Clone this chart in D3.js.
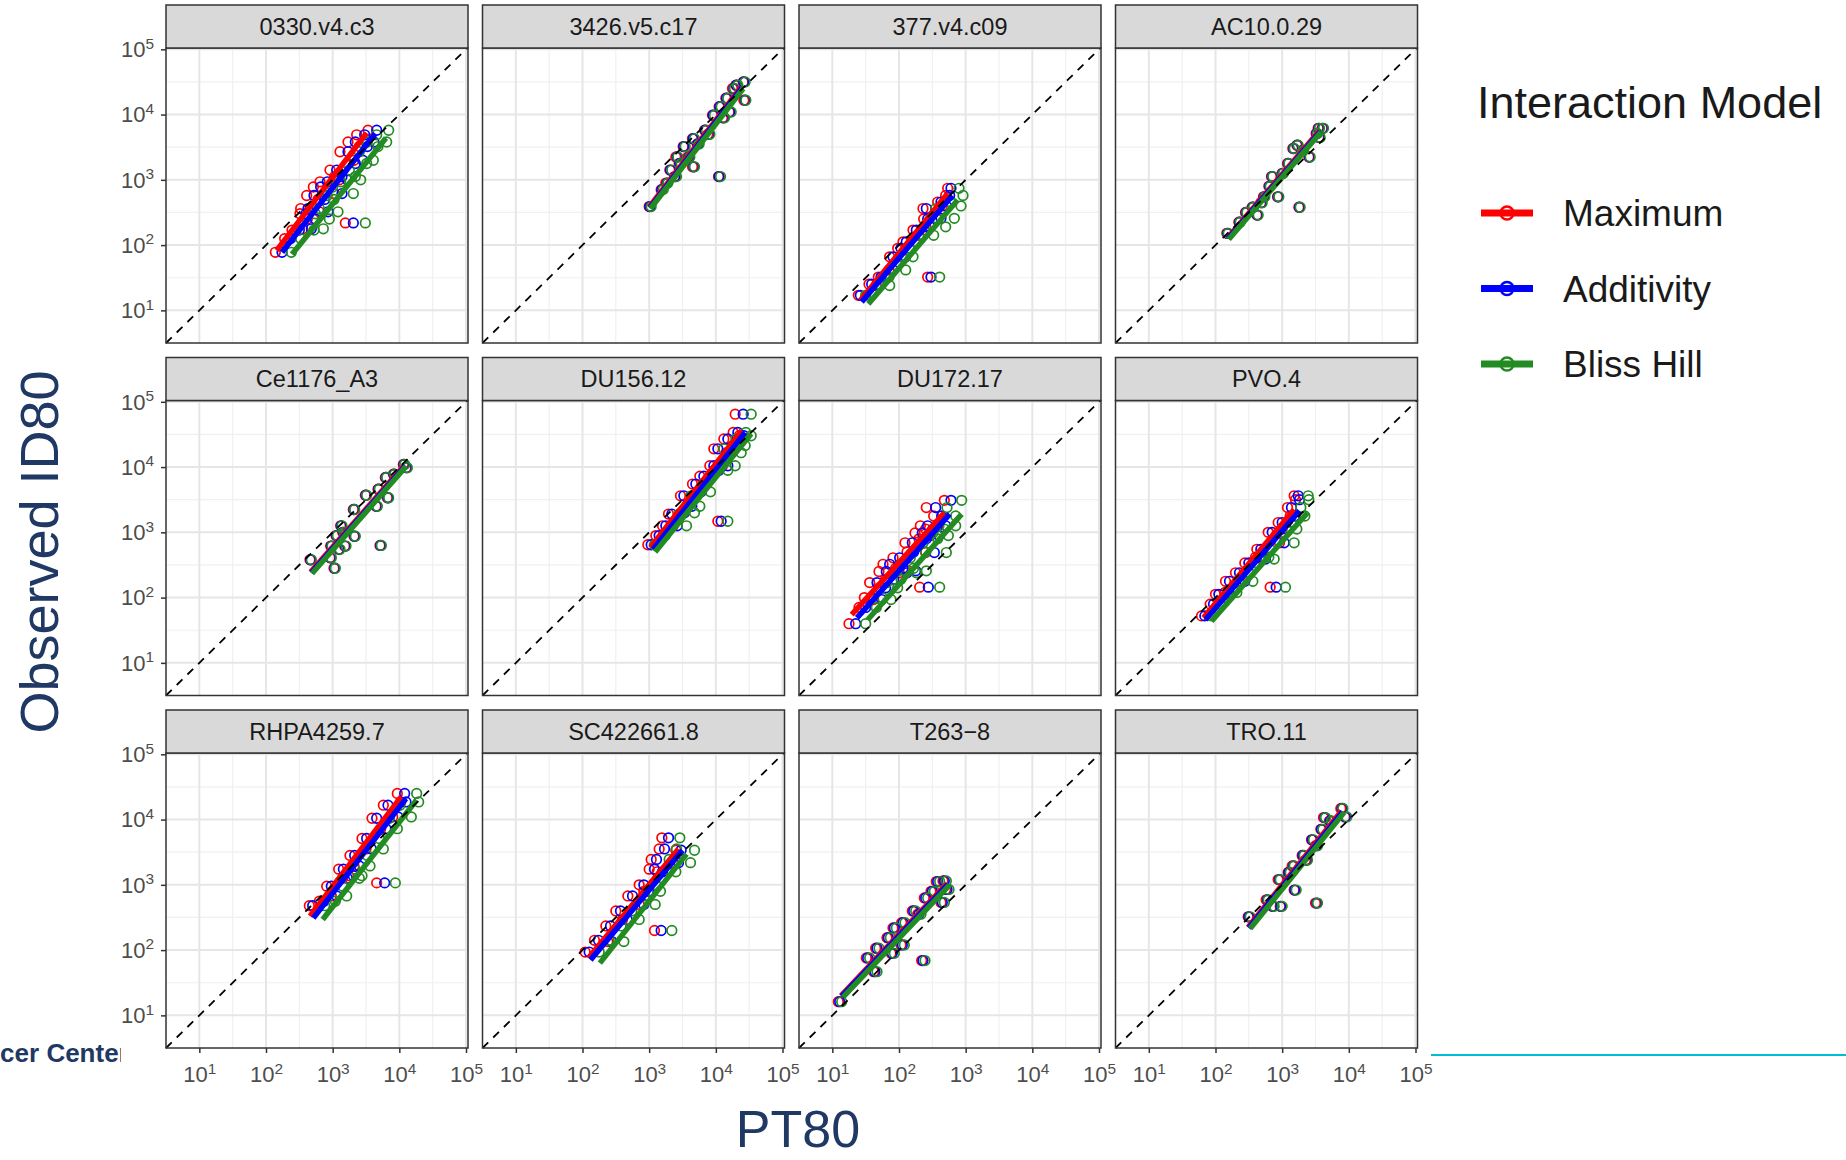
<!DOCTYPE html>
<html>
<head>
<meta charset="utf-8">
<script src="https://cdn.jsdelivr.net/npm/d3@7"></script>
<style>
  body { margin: 0; background: #fff; overflow: hidden; }
  svg { display: block; font-family: "Liberation Sans", Arial, sans-serif; }
</style>
</head>
<body>
<div id="chart"></div>
<script>
// panel names (facets) and models
const panels = ["0330.v4.c3", "3426.v5.c17", "377.v4.c09", "AC10.0.29",
                "Ce1176_A3", "DU156.12", "DU172.17", "PVO.4",
                "RHPA4259.7", "SC422661.8", "T263\u22128", "TRO.11"];
const models = ["Maximum", "Additivity", "Bliss Hill"];
const modelColors = ["#ff0000", "#0000ff", "#228b22"];

// axis breaks, log10 units (labels 10^k)
const majorBreaks = [1, 2, 3, 4, 5];
const minorBreaks = [1.5, 2.5, 3.5, 4.5];

// observed ID80, log10, one array per panel
const observedID80 = [
  [1.89,2.10,2.23,2.25,2.48,2.56,2.51,2.76,2.70,2.89,2.97,2.79,3.15,3.05,3.25,3.43,3.30,3.58,3.51,3.69,3.58,3.76,2.34,2.40,3.00],
  [2.59,2.85,2.95,3.15,3.05,3.35,3.25,3.51,3.35,3.63,3.20,3.55,3.76,3.70,3.99,4.12,3.95,4.25,4.04,4.40,4.45,4.50,4.22,3.05],
  [1.23,1.40,1.51,1.38,1.82,1.62,1.95,1.82,2.05,2.23,2.15,2.40,2.56,2.41,2.66,2.60,2.87,2.76,1.51,2.28],
  [2.18,2.35,2.46,2.58,2.50,2.74,2.65,2.74,2.90,3.05,3.10,3.25,3.48,3.53,3.35,3.45,3.71,3.79,3.79,3.65,2.58],
  [2.58,2.45,2.61,2.74,2.79,3.00,2.94,3.35,3.10,3.57,2.80,3.66,3.53,3.40,3.84,3.89,4.04,3.99,2.79,2.95],
  [2.81,2.95,3.10,3.28,3.10,3.56,3.40,3.74,3.62,3.86,4.02,3.95,4.28,4.02,4.22,4.43,4.33,4.53,4.48,4.81,3.17,3.30],
  [1.60,1.85,2.00,1.97,2.23,2.15,2.40,2.51,2.28,2.61,2.45,2.84,2.38,2.70,2.99,2.41,3.10,2.90,3.05,3.38,2.95,3.25,3.49,3.10,2.16,2.69],
  [1.72,1.90,2.05,2.08,2.25,2.25,2.38,2.53,2.59,2.74,2.62,3.00,2.84,3.15,3.05,3.38,3.25,3.56,3.50,2.16],
  [2.68,2.75,2.98,2.83,3.24,3.10,3.45,3.14,3.29,3.71,3.55,4.02,3.86,4.22,4.04,4.40,4.27,3.03],
  [1.97,2.15,2.13,2.37,2.60,2.47,2.83,2.70,3.00,2.90,3.24,3.39,3.20,3.55,3.34,3.72,3.53,2.30],
  [1.21,1.67,1.88,2.03,1.95,2.19,2.08,2.34,2.42,2.60,2.55,2.80,2.73,3.05,3.06,2.93,1.84,2.90],
  [2.51,2.67,2.77,2.67,2.92,3.08,3.19,3.29,3.45,3.38,3.69,3.60,3.85,4.03,3.98,4.17,4.04,2.72]
];

// predicted PT80, log10, per model
const pt80Maximum = [
  [2.14,2.28,2.39,2.55,2.51,2.52,2.80,2.61,2.78,2.71,2.81,3.02,2.96,3.03,3.22,3.11,3.32,3.23,3.40,3.36,3.50,3.53,3.19,2.62,3.10],
  [3.00,3.18,3.25,3.31,3.38,3.40,3.45,3.51,3.58,3.65,3.65,3.72,3.83,3.88,3.95,4.05,4.10,4.15,4.20,4.25,4.30,4.41,4.42,4.04],
  [1.39,1.55,1.69,1.66,1.86,1.85,1.98,2.04,2.06,2.21,2.30,2.37,2.36,2.56,2.58,2.65,2.73,2.70,2.43,2.40],
  [2.17,2.35,2.62,2.55,2.45,2.72,2.68,2.93,2.80,2.84,3.00,3.08,3.16,3.22,3.40,3.30,3.51,3.54,3.60,3.55,3.25],
  [2.66,3.02,2.96,3.09,3.18,3.15,3.32,3.31,3.12,3.49,3.71,3.68,3.82,3.65,3.79,3.91,4.06,4.10,2.97,3.05],
  [2.98,3.10,3.20,3.29,3.36,3.47,3.58,3.65,3.72,3.76,3.91,3.98,3.97,4.10,4.16,4.12,4.25,4.26,4.35,4.29,4.03,3.48],
  [1.25,1.40,1.48,1.62,1.56,1.70,1.70,1.76,1.80,1.91,1.95,2.09,2.00,2.12,2.24,2.14,2.32,2.30,2.40,2.41,2.47,2.52,2.68,2.58,2.31,2.40],
  [1.79,1.92,2.00,2.14,2.15,2.38,2.30,2.44,2.69,2.62,2.60,2.79,2.96,2.94,3.00,3.08,3.12,3.18,3.20,2.82],
  [2.65,2.80,2.91,2.98,3.09,3.15,3.26,3.24,3.32,3.44,3.50,3.59,3.72,3.76,3.90,3.97,4.02,3.66],
  [2.04,2.18,2.38,2.35,2.50,2.60,2.68,2.85,2.85,2.92,3.00,3.03,3.12,3.15,3.36,3.19,3.40,3.08],
  [1.09,1.62,1.51,1.65,1.88,1.82,2.03,1.91,2.04,2.20,2.28,2.38,2.63,2.56,2.66,2.70,2.34,2.48],
  [2.49,2.85,2.76,2.97,3.18,2.94,3.09,3.15,3.30,3.35,3.44,3.50,3.58,3.62,3.71,3.88,3.94,3.50]
];
const pt80Additivity = [
  [2.24,2.37,2.50,2.68,2.60,2.63,2.93,2.72,2.88,2.82,2.92,3.14,3.06,3.14,3.34,3.23,3.45,3.34,3.52,3.48,3.62,3.66,3.31,2.74,3.22],
  [3.01,3.19,3.27,3.32,3.39,3.42,3.46,3.52,3.60,3.66,3.67,3.73,3.84,3.90,3.96,4.06,4.12,4.16,4.21,4.27,4.31,4.42,4.44,4.05],
  [1.42,1.59,1.73,1.71,1.91,1.91,2.03,2.10,2.11,2.26,2.36,2.43,2.41,2.63,2.63,2.71,2.78,2.76,2.48,2.47],
  [2.18,2.36,2.63,2.56,2.46,2.73,2.69,2.94,2.81,2.85,3.01,3.09,3.17,3.23,3.41,3.31,3.52,3.55,3.61,3.56,3.26],
  [2.67,3.03,2.97,3.10,3.19,3.16,3.33,3.32,3.13,3.50,3.72,3.69,3.83,3.66,3.80,3.92,4.07,4.11,2.98,3.06],
  [3.03,3.15,3.25,3.34,3.42,3.52,3.64,3.70,3.78,3.82,3.97,4.05,4.03,4.18,4.24,4.18,4.32,4.33,4.42,4.41,4.08,3.53],
  [1.35,1.50,1.59,1.74,1.67,1.80,1.81,1.86,1.92,2.01,2.06,2.20,2.12,2.22,2.35,2.25,2.43,2.41,2.51,2.55,2.60,2.64,2.78,2.70,2.44,2.53],
  [1.84,1.97,2.05,2.20,2.21,2.44,2.36,2.50,2.75,2.68,2.67,2.85,3.03,3.00,3.07,3.14,3.19,3.24,3.26,2.91],
  [2.70,2.87,2.98,3.06,3.16,3.22,3.33,3.31,3.40,3.51,3.58,3.66,3.80,3.83,3.98,4.08,4.10,3.78],
  [2.10,2.24,2.44,2.42,2.57,2.67,2.75,2.92,2.92,2.99,3.08,3.11,3.20,3.23,3.44,3.29,3.48,3.18],
  [1.11,1.64,1.53,1.67,1.90,1.84,2.05,1.93,2.06,2.22,2.30,2.40,2.65,2.58,2.68,2.72,2.36,2.50],
  [2.50,2.86,2.78,2.98,3.19,2.96,3.10,3.17,3.31,3.37,3.45,3.52,3.59,3.64,3.72,3.90,3.95,3.52]
];
const pt80Bliss = [
  [2.38,2.52,2.72,2.86,2.74,2.80,3.08,2.92,3.02,3.00,3.12,3.31,3.25,3.34,3.51,3.40,3.61,3.52,3.68,3.66,3.81,3.84,3.49,2.95,3.42],
  [3.03,3.21,3.28,3.34,3.41,3.43,3.48,3.54,3.61,3.68,3.68,3.75,3.86,3.91,3.98,4.08,4.13,4.18,4.23,4.28,4.33,4.44,4.45,4.07],
  [1.50,1.70,1.85,1.86,2.05,2.10,2.16,2.21,2.25,2.38,2.52,2.58,2.55,2.83,2.78,2.93,2.90,2.96,2.61,2.70],
  [2.19,2.37,2.64,2.57,2.47,2.74,2.70,2.95,2.82,2.86,3.02,3.10,3.18,3.24,3.42,3.32,3.53,3.56,3.62,3.57,3.27],
  [2.68,3.04,2.98,3.11,3.20,3.17,3.34,3.33,3.14,3.51,3.73,3.70,3.84,3.67,3.81,3.93,4.08,4.12,2.99,3.07],
  [3.08,3.24,3.35,3.45,3.56,3.63,3.76,3.82,3.92,3.95,4.08,4.18,4.12,4.29,4.38,4.30,4.44,4.45,4.53,4.53,4.18,3.68],
  [1.50,1.66,1.75,1.88,1.82,1.98,1.97,2.03,2.03,2.17,2.22,2.36,2.26,2.40,2.51,2.41,2.60,2.58,2.68,2.72,2.74,2.85,2.94,2.85,2.61,2.71],
  [1.94,2.07,2.17,2.32,2.35,2.56,2.50,2.63,2.88,2.82,2.80,2.99,3.18,3.14,3.22,3.28,3.34,3.39,3.40,3.05],
  [2.88,3.04,3.15,3.21,3.33,3.40,3.52,3.44,3.56,3.70,3.76,3.85,3.97,4.01,4.18,4.26,4.29,3.94],
  [2.25,2.40,2.62,2.58,2.74,2.85,2.93,3.09,3.10,3.17,3.26,3.30,3.40,3.41,3.62,3.46,3.68,3.34],
  [1.14,1.67,1.56,1.70,1.93,1.87,2.08,1.96,2.09,2.25,2.33,2.43,2.68,2.61,2.71,2.75,2.39,2.53],
  [2.52,2.88,2.79,3.00,3.21,2.97,3.12,3.18,3.33,3.38,3.47,3.53,3.61,3.65,3.74,3.91,3.97,3.53]
];

// fitted lines per panel: [pt80 start, id80 start, pt80 end, id80 end], log10
const fitMaximum = [
  [2.16,1.92,3.51,3.72],[3.00,2.58,4.38,4.42],[1.42,1.15,2.73,2.79],[2.18,2.11,3.56,3.75],
  [2.67,2.39,4.08,4.03],[3.02,2.77,4.39,4.56],[1.29,1.74,2.68,3.30],[1.82,1.69,3.18,3.35],
  [2.66,2.52,4.03,4.35],[2.09,1.88,3.44,3.55],[1.13,1.30,2.72,3.02],[2.49,2.35,3.89,4.13]
];
const fitAdditivity = [
  [2.24,1.89,3.64,3.71],[3.01,2.57,4.39,4.41],[1.44,1.13,2.80,2.76],[2.19,2.10,3.57,3.74],
  [2.68,2.38,4.09,4.02],[3.06,2.74,4.44,4.53],[1.37,1.69,2.76,3.28],[1.85,1.66,3.26,3.33],
  [2.71,2.49,4.10,4.32],[2.12,1.85,3.50,3.53],[1.14,1.29,2.74,3.01],[2.50,2.34,3.91,4.12]
];
const fitBliss = [
  [2.39,1.86,3.80,3.64],[3.02,2.56,4.41,4.40],[1.54,1.10,2.88,2.69],[2.20,2.09,3.58,3.73],
  [2.69,2.37,4.10,4.01],[3.09,2.70,4.53,4.51],[1.53,1.66,2.94,3.28],[1.94,1.64,3.38,3.30],
  [2.85,2.47,4.26,4.30],[2.26,1.80,3.56,3.47],[1.16,1.28,2.76,3.00],[2.52,2.33,3.93,4.11]
];

const W = 1846, H = 1160;
const panelLeft0 = 166, pitchX = 316.5, panelW = 302;
const stripTop0 = 5, pitchY = 352.5, stripH = 43, plotH = 295;

const svg = d3.select("#chart").append("svg")
    .attr("width", W)
    .attr("height", H);

svg.append("rect").attr("width", W).attr("height", H).attr("fill", "#fff");

// slide leftovers behind the plot
svg.append("defs").append("clipPath").attr("id", "logoClip")
  .append("rect").attr("x", 0).attr("y", 1020).attr("width", 121).attr("height", 60);
svg.append("text")
    .attr("clip-path", "url(#logoClip)")
    .attr("x", -49).attr("y", 1062)
    .attr("font-size", 26).attr("font-weight", "bold")
    .attr("fill", "#1f3864")
    .text("Cancer Center");
svg.append("line")
    .attr("x1", 1431).attr("x2", W).attr("y1", 1055).attr("y2", 1055)
    .attr("stroke", "#00bcd4").attr("stroke-width", 2);

// scales (log10 values)
const x = d3.scaleLinear().domain([0.5, 5.03]).range([0, panelW]);
const y = d3.scaleLinear().domain([0.5, 5.02]).range([plotH, 0]);

const series = [
  { name: models[0], color: modelColors[0], pt: pt80Maximum, fit: fitMaximum },
  { name: models[1], color: modelColors[1], pt: pt80Additivity, fit: fitAdditivity },
  { name: models[2], color: modelColors[2], pt: pt80Bliss, fit: fitBliss }
];

function powerLabels(sel) {
  sel.each(function(d) {
    const t = d3.select(this).text(null);
    t.append("tspan").text("10");
    t.append("tspan").attr("dy", "-0.55em").attr("font-size", "0.7em").text(d);
  });
}

panels.forEach((name, i) => {
  const col = i % 4, row = Math.floor(i / 4);
  const left = panelLeft0 + col * pitchX;
  const stripTop = stripTop0 + row * pitchY;
  const top = stripTop + stripH;

  const g = svg.append("g").attr("transform", `translate(${left},${top})`);

  // grid
  g.selectAll(".minx").data(minorBreaks).join("line")
      .attr("x1", d => x(d)).attr("x2", d => x(d)).attr("y1", 0).attr("y2", plotH)
      .attr("stroke", "#f0f0f0").attr("stroke-width", 1.2);
  g.selectAll(".miny").data(minorBreaks).join("line")
      .attr("y1", d => y(d)).attr("y2", d => y(d)).attr("x1", 0).attr("x2", panelW)
      .attr("stroke", "#f0f0f0").attr("stroke-width", 1.2);
  g.selectAll(".majx").data(majorBreaks).join("line")
      .attr("x1", d => x(d)).attr("x2", d => x(d)).attr("y1", 0).attr("y2", plotH)
      .attr("stroke", "#e6e6e6").attr("stroke-width", 2);
  g.selectAll(".majy").data(majorBreaks).join("line")
      .attr("y1", d => y(d)).attr("y2", d => y(d)).attr("x1", 0).attr("x2", panelW)
      .attr("stroke", "#e6e6e6").attr("stroke-width", 2);

  // points
  series.forEach(s => {
    g.append("g").selectAll("circle")
      .data(d3.zip(s.pt[i], observedID80[i]))
      .join("circle")
        .attr("cx", d => x(d[0]))
        .attr("cy", d => y(d[1]))
        .attr("r", 4.8)
        .attr("fill", "none")
        .attr("stroke", s.color)
        .attr("stroke-width", 1.7);
  });

  // fitted lines
  series.forEach(s => {
    const f = s.fit[i];
    g.append("line")
      .attr("x1", x(f[0])).attr("y1", y(f[1]))
      .attr("x2", x(f[2])).attr("y2", y(f[3]))
      .attr("stroke", s.color).attr("stroke-width", 5.5);
  });

  // identity line
  g.append("line")
      .attr("x1", x(0.5)).attr("y1", y(0.5))
      .attr("x2", x(5.02)).attr("y2", y(5.02))
      .attr("stroke", "#000").attr("stroke-width", 1.8)
      .attr("stroke-dasharray", "8,7");

  // border
  g.append("rect")
      .attr("width", panelW).attr("height", plotH)
      .attr("fill", "none").attr("stroke", "#333").attr("stroke-width", 1.5);

  // strip
  svg.append("rect")
      .attr("x", left).attr("y", stripTop)
      .attr("width", panelW).attr("height", stripH)
      .attr("fill", "#d9d9d9").attr("stroke", "#333").attr("stroke-width", 1.5);
  svg.append("text")
      .attr("x", left + panelW / 2).attr("y", stripTop + stripH / 2 + 8)
      .attr("text-anchor", "middle")
      .attr("font-size", 23.5).attr("fill", "#1a1a1a")
      .text(name);

  // axes
  if (row === 2) {
    const ax = svg.append("g")
        .attr("transform", `translate(${left},${top + plotH})`)
        .call(d3.axisBottom(x).tickValues(majorBreaks).tickSize(5));
    ax.select(".domain").remove();
    ax.selectAll("line").attr("stroke", "#333").attr("stroke-width", 1.5);
    ax.selectAll("text")
        .attr("y", 34).attr("dy", 0)
        .attr("fill", "#4d4d4d").attr("font-size", 22)
        .attr("font-family", "'Liberation Sans', Arial, sans-serif")
        .call(powerLabels);
  }
  if (col === 0) {
    const ay = svg.append("g")
        .attr("transform", `translate(${left},${top})`)
        .call(d3.axisLeft(y).tickValues(majorBreaks).tickSize(5));
    ay.select(".domain").remove();
    ay.selectAll("line").attr("stroke", "#333").attr("stroke-width", 1.5);
    ay.selectAll("text")
        .attr("x", -12).attr("dy", "0.33em")
        .attr("fill", "#4d4d4d").attr("font-size", 22)
        .attr("font-family", "'Liberation Sans', Arial, sans-serif")
        .call(powerLabels);
  }
});

// axis titles
svg.append("text")
    .attr("transform", "translate(58,552) rotate(-90)")
    .attr("text-anchor", "middle")
    .attr("font-size", 54).attr("fill", "#1f3864")
    .text("Observed ID80");
svg.append("text")
    .attr("x", 798).attr("y", 1147)
    .attr("text-anchor", "middle")
    .attr("font-size", 52).attr("fill", "#1f3864")
    .text("PT80");

// legend
const legend = svg.append("g");
legend.append("text")
    .attr("x", 1477).attr("y", 118)
    .attr("font-size", 45).attr("fill", "#1a1a1a")
    .text("Interaction Model");
models.forEach((m, k) => {
  const cy = 213 + k * 75.5;
  legend.append("line")
      .attr("x1", 1481).attr("x2", 1533).attr("y1", cy).attr("y2", cy)
      .attr("stroke", modelColors[k]).attr("stroke-width", 7);
  legend.append("circle")
      .attr("cx", 1507).attr("cy", cy).attr("r", 6.5)
      .attr("fill", "none").attr("stroke", modelColors[k]).attr("stroke-width", 2.5);
  legend.append("text")
      .attr("x", 1563).attr("y", cy + 13)
      .attr("font-size", 37).attr("fill", "#1a1a1a")
      .text(m);
});
</script>
</body>
</html>
